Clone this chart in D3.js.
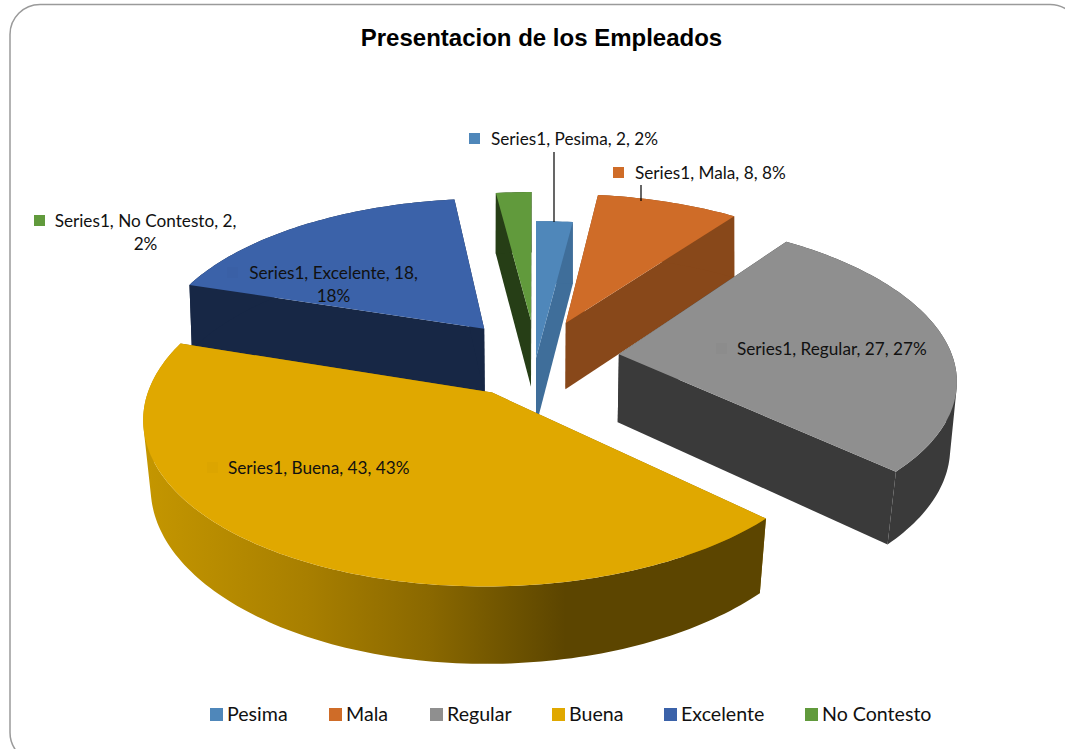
<!DOCTYPE html>
<html><head><meta charset="utf-8">
<script src="https://cdn.jsdelivr.net/npm/d3@7"></script>
<style>html,body{margin:0;padding:0;background:#fff;overflow:hidden}svg{display:block}</style>
</head><body><svg id="c" width="1065" height="749"></svg>
<script>
// ---- data ----
const seriesName = "Series1";
const categories = ["Pesima","Mala","Regular","Buena","Excelente","No Contesto"];
const values = [2,8,27,43,18,2];
const explosion = [0,0.25,0.25,0.25,0.25,0.25];
const topColors = ["#4f87ba","#cf6c28","#8f8f8f","#e0a800","#3b62a9","#619a3c"];
const wallColors = ["#3f6e9a","#88481a","#3a3a3a","#8a6800","#172745","#263e16"];
const chartTitle = "Presentacion de los Empleados";

// ---- layout ----
const W = 1065, H = 749;
const svg = d3.select("#c");
const labelFont = "Lato, Carlito, sans-serif";
const cx = 536, cy = 358, persp = 0.14;
const sx = d3.scaleLinear().domain([0,1]).range([0,334]);
const sy = d3.scaleLinear().domain([0,1]).range([0,156]);
const depth = 68, depthPersp = 0.1;
const project = (X,Y,z) => {
  const k = 1 + persp*Y;
  const shrink = 1 - z*(0.014 - 0.014*Y);
  return [cx + sx(X)/k*shrink, cy - sy(Y)/k + z*depth/(1+depthPersp*Y)];
};
const arcs = d3.pie().sort(null).value(d=>d)(values);
const line = d3.line();

const defs = svg.append("defs");
const grad = defs.append("linearGradient").attr("id","buenaWall")
  .attr("gradientUnits","userSpaceOnUse").attr("x1",146).attr("x2",763).attr("y1",0).attr("y2",0);
[[0,"#c49600"],[0.26,"#a87f00"],[0.46,"#8a6800"],[0.585,"#6f5400"],[0.68,"#5c4500"],[1,"#5c4500"]]
  .forEach(([o,c])=>grad.append("stop").attr("offset",o).attr("stop-color",c));

svg.append("rect").attr("x",10).attr("y",4.5).attr("width",1070).attr("height",758)
  .attr("rx",30).attr("ry",30).attr("fill","#fff").attr("stroke","#9a9a9a").attr("stroke-width",1.5);

svg.append("text").attr("x",541.5).attr("y",46).attr("text-anchor","middle")
  .attr("font-family","'Liberation Sans', Arial, sans-serif").attr("font-weight","bold")
  .attr("font-size",24).attr("fill","#000").text(chartTitle);

// slices back to front
const paintOrder = ["No Contesto","Excelente","Mala","Regular","Pesima","Buena"];
const slices = arcs.map((a,i)=>{
  const mid = (a.startAngle+a.endAngle)/2, e = explosion[i];
  const ox = e*Math.sin(mid), oy = e*Math.cos(mid);
  const n = Math.max(2,Math.ceil((a.endAngle-a.startAngle)/0.02));
  const rim = d3.range(n+1).map(j=>{
    const t = a.startAngle+(a.endAngle-a.startAngle)*j/n;
    return [ox+Math.sin(t), oy+Math.cos(t)];
  });
  return {i, apex:[ox,oy], rim};
});
const at = z => p => project(p[0],p[1],z);
const g = svg.append("g");
paintOrder.forEach(name=>{
  const s = slices[categories.indexOf(name)], i = s.i;
  const rimTop = s.rim.map(at(0)), rimBot = s.rim.map(at(1));
  const A0 = at(0)(s.apex), A1 = at(1)(s.apex);
  const wall = name==="Buena" ? "url(#buenaWall)" : wallColors[i];
  [[rimTop[0],rimBot[0]],[rimTop[rimTop.length-1],rimBot[rimBot.length-1]]].forEach(([t,b])=>{
    g.append("path").attr("d",line([A0,t,b,A1])+"Z").attr("fill",wallColors[i]);
  });
  // swept outer wall: quads with one winding in a single path, so no seams and no pinch at the tangent
  const wallPath = d3.range(rimTop.length-1).map(j=>{
    const q = [rimTop[j],rimTop[j+1],rimBot[j+1],rimBot[j]];
    if (d3.polygonArea(q) < 0) q.reverse();
    return line(q)+"Z";
  }).join("");
  g.append("path").attr("d",wallPath).attr("fill",wall).attr("fill-rule","nonzero");
  g.append("path").attr("d",line([A0].concat(rimTop))+"Z").attr("fill",topColors[i]);
});

// leader lines
const leaders = {"Pesima":[[554,152],[554,222]],"Mala":[[641,185],[641,201]]};
Object.values(leaders).forEach(l=>svg.append("path").attr("d",line(l)).attr("stroke","#000").attr("stroke-width",1.2).attr("fill","none"));

// data labels
const labelLayout = {
  "Pesima":{sw:[469,133],x:491,y:145,anchor:"start"},
  "Mala":{sw:[613,167],x:635,y:179,anchor:"start"},
  "Regular":{sw:[716,343],x:737,y:355,anchor:"start",inside:true},
  "Buena":{sw:[207,462],x:228,y:474,anchor:"start",inside:true},
  "Excelente":{sw:[227,267],x:333.5,y:279,anchor:"middle",wrap:true,inside:true},
  "No Contesto":{sw:[34,215],x:145.5,y:227,anchor:"middle",wrap:true}
};
categories.forEach((c,i)=>{
  const L = labelLayout[c], v = values[i];
  svg.append("rect").attr("x",L.sw[0]).attr("y",L.sw[1]).attr("width",11).attr("height",11)
    .attr("fill",L.inside ? d3.color(topColors[i]).darker(0.05) : topColors[i]);
  const lines = L.wrap ? [`${seriesName}, ${c}, ${v},`,`${v}%`] : [`${seriesName}, ${c}, ${v}, ${v}%`];
  lines.forEach((t,j)=>svg.append("text").attr("x",L.x).attr("y",L.y+j*23).attr("text-anchor",L.anchor)
    .attr("font-family",labelFont).attr("font-size",17.2).attr("fill","#111").text(t));
});

// legend
const legendX = [210,329,430,552,664,805];
const lg = svg.append("g").selectAll("g").data(categories).join("g")
  .attr("transform",(d,i)=>`translate(${legendX[i]},708)`);
lg.append("rect").attr("width",13).attr("height",13).attr("fill",(d,i)=>topColors[i]);
lg.append("text").attr("x",17).attr("y",13).attr("font-family",labelFont).attr("font-size",19.6).attr("fill","#111").text(d=>d);
</script></body></html>
